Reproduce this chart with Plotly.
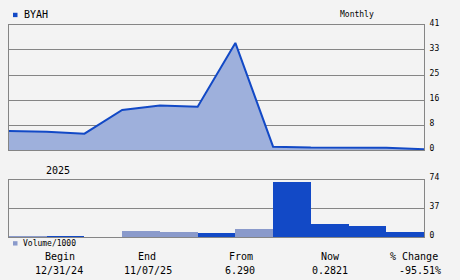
import plotly.graph_objects as go

# ---- data ----
price_dates = ["12/31/24", "01/31/25", "02/28/25", "03/31/25", "04/30/25", "05/30/25",
               "06/30/25", "07/31/25", "08/29/25", "09/30/25", "10/31/25", "11/07/25"]
prices = [6.29, 6.0, 5.42, 13.15, 14.6, 14.25, 35.1, 1.15, 0.85, 0.85, 0.8, 0.2821]
months = ["Jan", "Feb", "Mar", "Apr", "May", "Jun", "Jul", "Aug", "Sep", "Oct", "Nov"]
volumes = [2.0, 1.4, 1.0, 9.0, 7.8, 6.2, 11.5, 71.0, 17.7, 15.2, 7.8]
vol_up = [True, False, False, True, True, False, True, False, False, False, False]
price_ticks = [0, 8.2, 16.4, 24.6, 32.8, 41]
price_tick_text = ["0", "8", "16", "25", "33", "41"]
vol_ticks = [0, 37, 74]
vol_tick_text = ["0", "37", "74"]
ticker = "BYAH"
summary_labels = ["Begin", "End", "From", "Now", "% Change"]
summary_values = ["12/31/24", "11/07/25", "6.290", "0.2821", "-95.51%"]

W, H = 460, 280
BG = "#f3f3f3"
DARK = "#1249c6"
FILL = "#9eb0dc"
LIGHT = "#8a9acb"
GRID = "#858585"
FONT = "DejaVu Sans Mono"

def px(x):
    return x / W

def py(y):
    return 1 - y / H

x_pts = list(range(len(prices)))
x_bars = [i + 0.5 for i in range(len(volumes))]

fig = go.Figure()
fig.add_trace(go.Scatter(
    x=x_pts, y=prices, mode="lines", fill="tozeroy",
    fillcolor=FILL, line=dict(color=DARK, width=2),
    xaxis="x", yaxis="y", hoverinfo="skip", showlegend=False))
fig.add_trace(go.Bar(
    x=x_bars, y=volumes, width=1.0,
    marker=dict(color=[LIGHT if u else DARK for u in vol_up], line=dict(width=0)),
    xaxis="x2", yaxis="y2", hoverinfo="skip", showlegend=False))

x0, x1 = px(9), px(424)
axis_common = dict(showgrid=False, zeroline=False, showline=True, linecolor=GRID,
                   linewidth=1, mirror=True, ticks="", showticklabels=False,
                   range=[0, len(volumes)], fixedrange=True)
fig.update_layout(
    width=W, height=H, margin=dict(l=0, r=0, t=0, b=0),
    paper_bgcolor=BG, plot_bgcolor=BG,
    font=dict(family=FONT, size=8, color="#000"),
    bargap=0,
    xaxis=dict(domain=[x0, x1], anchor="y", **axis_common),
    xaxis2=dict(domain=[x0, x1], anchor="y2", **axis_common),
    yaxis=dict(domain=[py(149), py(19.5)], anchor="x", side="right",
               range=[0, 41], tickvals=price_ticks, ticktext=price_tick_text,
               showgrid=True, gridcolor=GRID, gridwidth=1, zeroline=False,
               showline=True, linecolor=GRID, mirror=True, ticks="",
               ticklabelstandoff=3, ticklabelshift=-2,
               tickfont=dict(family=FONT, size=8)),
    yaxis2=dict(domain=[py(239), py(179.3)], anchor="x2", side="right",
                range=[0, 74], tickvals=vol_ticks, ticktext=vol_tick_text,
                showgrid=True, gridcolor=GRID, gridwidth=1, zeroline=False,
                showline=True, linecolor=GRID, mirror=True, ticks="",
                ticklabelstandoff=3, ticklabelshift=-2,
                tickfont=dict(family=FONT, size=8)),
)

shapes = [
    dict(type="rect", xref="paper", yref="paper", x0=px(13), x1=px(17.5),
         y0=py(11.5), y1=py(7), fillcolor=DARK, line=dict(width=0)),
    dict(type="rect", xref="paper", yref="paper", x0=px(13), x1=px(17.5),
         y0=py(247.5), y1=py(243), fillcolor=LIGHT, line=dict(width=0)),
]
fig.update_layout(shapes=shapes)

ann = []
def text(x, y, s, size, anchor="center"):
    ann.append(dict(x=px(x), y=py(y), xref="paper", yref="paper", text=s,
                    showarrow=False, xanchor=anchor, yanchor="middle",
                    font=dict(family=FONT, size=size, color="#000")))

text(21.5, 9, ticker, 10, "left")
text(357, 9, "Monthly", 8)
text(57.5, 170, "2025", 10)
text(20.5, 245.5, "Volume/1000", 8, "left")
label_x = [60, 146.5, 241, 330, 414]
value_x = [59, 147.5, 240, 329.5, 420]
for lx, vx, lab, val in zip(label_x, value_x, summary_labels, summary_values):
    text(lx, 259, lab, 10)
    text(vx, 273, val, 10)
fig.update_layout(annotations=ann)

fig.write_html("out.html")
